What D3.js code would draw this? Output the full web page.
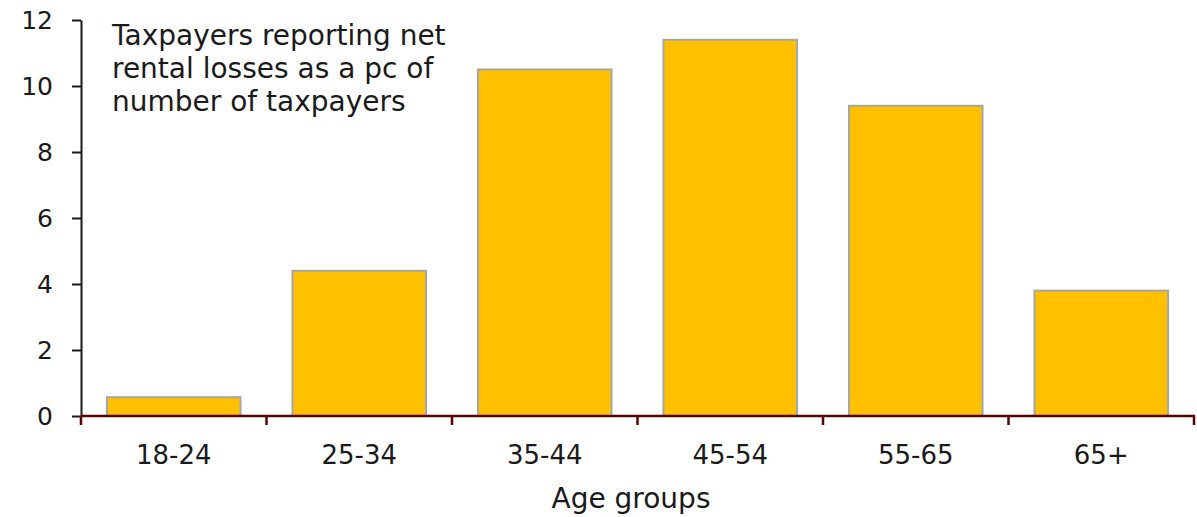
<!DOCTYPE html>
<html><head><meta charset="utf-8">
<script src="https://cdn.jsdelivr.net/npm/d3@7"></script>
<style>body{margin:0;background:#fff}svg{display:block}text{font-family:"DejaVu Sans",sans-serif;fill:#1a1a1a}</style>
</head><body>
<svg id="c" width="1197" height="517"></svg>
<script>
const categories = ["18-24","25-34","35-44","45-54","55-65","65+"];
const values = [0.57, 4.4, 10.5, 11.4, 9.4, 3.8];
const yTicks = [0,2,4,6,8,10,12];
const annotation = ["Taxpayers reporting net","rental losses as a pc of","number of taxpayers"];
const xTitle = "Age groups";

const svg = d3.select("#c");
const m = {left:81, right:1194, top:20, bottom:416};
const x = d3.scaleBand().domain(categories).range([m.left, m.right]).paddingInner(0.28).paddingOuter(0.14);
const y = d3.scaleLinear().domain([0,12]).range([m.bottom, m.top]);

svg.append("g").selectAll("rect").data(values).join("rect")
  .attr("x",(d,i)=>x(categories[i])).attr("width",x.bandwidth())
  .attr("y",d=>y(d)).attr("height",d=>y(0)-y(d))
  .attr("fill","#FFC000").attr("stroke","#A6A6A6").attr("stroke-width",2);

const ya = svg.append("g").attr("transform",`translate(${m.left},0)`)
  .call(d3.axisLeft(y).tickValues(yTicks).tickSize(9).tickPadding(19).tickSizeOuter(0));
ya.select(".domain").attr("stroke","#1a1a1a").attr("stroke-width",2);
ya.selectAll(".tick line").attr("stroke","#1a1a1a").attr("stroke-width",2);
ya.selectAll("text").style("font-size","25px").attr("fill","#1a1a1a");

const xa = svg.append("g").attr("transform",`translate(0,${m.bottom})`);
xa.append("line").attr("x1",m.left).attr("x2",m.right+1).attr("stroke","#5a0000").attr("stroke-width",2.5);
const bounds = categories.map(c=>x(c)-x.step()*x.paddingInner()/2).concat([m.right]);
xa.selectAll(".bt").data(bounds).join("line").attr("class","bt")
  .attr("x1",d=>d).attr("x2",d=>d).attr("y1",0).attr("y2",9)
  .attr("stroke","#5a0000").attr("stroke-width",2.5);
xa.selectAll(".lbl").data(categories).join("text").attr("class","lbl")
  .attr("x",d=>x(d)+x.bandwidth()/2).attr("y",48).attr("text-anchor","middle")
  .style("font-size","26px").text(d=>d);

svg.append("text").attr("x",631).attr("y",508).attr("text-anchor","middle")
  .style("font-size","28px").text(xTitle);

svg.append("g").selectAll("text").data(annotation).join("text")
  .attr("x",112).attr("y",(d,i)=>45+i*33).style("font-size","28px").text(d=>d);
</script>
</body></html>
